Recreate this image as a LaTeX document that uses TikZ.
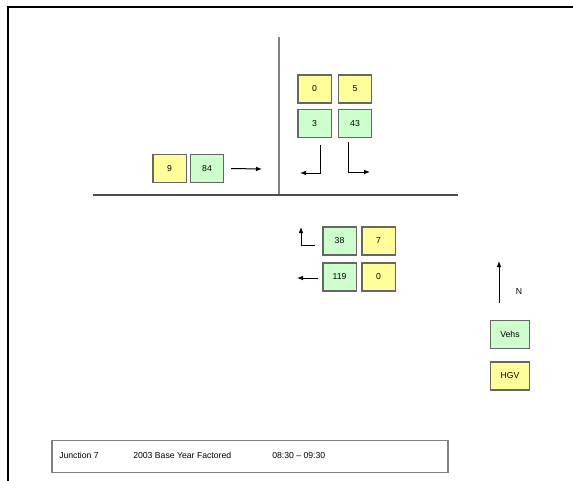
\documentclass[tikz,border=0pt]{standalone}
\usepackage{fontspec}
\setmainfont{Liberation Sans}
\usetikzlibrary{arrows.meta}
\definecolor{vehgreen}{RGB}{204,255,204}
\definecolor{hgvyellow}{RGB}{255,255,153}
\tikzset{
  flow box/.style={draw=black!60,line width=1pt,minimum width=25pt,minimum height=21pt,inner sep=0pt,font=\fontsize{6.5}{7}\selectfont},
  veh box/.style={flow box,fill=vehgreen},
  hgv box/.style={flow box,fill=hgvyellow},
  move arrow/.style={draw=black,line width=0.75pt,-{Latex[length=4.5pt,width=3.5pt]}},
  road/.style={draw=black!70,line width=1.5pt},
  title text/.style={anchor=west,inner sep=0pt,font=\fontsize{6.5}{7}\selectfont}
}

\begin{document}
\begin{tikzpicture}[x=0.75pt,y=-0.75pt]
        \useasboundingbox (0,0) rectangle (573,480);
        \draw[line width=1.5pt] (8,490) -- (8,7) -- (583,7);

        \coordinate (west end) at (93,195);
        \coordinate (east end) at (458,195);
        \coordinate (minor top) at (279,37);
        \coordinate (minor foot) at (279,195);
        \draw[draw=black!50,line width=1pt] (minor top) -- (minor foot);
        \draw[road] (west end) -- (east end);

        \begin{scope}
          \node[hgv box] (west hgv) at (169.5,168.5) {9};
          \node[veh box] (west veh) at (207,168.5) {84};
          \coordinate (west ahead) at (262,169);
          \draw[move arrow] ([xshift=5pt]west veh.east) -- (west ahead);
        \end{scope}

        \begin{scope}
          \node[hgv box] (south hgv left) at (314.5,89) {0};
          \node[hgv box] (south hgv right) at (355,89) {5};
          \node[veh box] (south veh left) at (314.5,123.5) {3};
          \node[veh box] (south veh right) at (355,123.5) {43};
          \coordinate (south left start) at (320,145);
          \coordinate (south left end) at (300,173);
          \coordinate (south right start) at (348,142);
          \coordinate (south right end) at (370,172);
          \draw[move arrow] (south left start) |- (south left end);
          \draw[move arrow] (south right start) |- (south right end);
        \end{scope}

        \begin{scope}
          \node[veh box] (east veh top) at (339.5,241) {38};
          \node[hgv box] (east hgv top) at (378.5,241) {7};
          \node[veh box] (east veh low) at (339.5,277) {119};
          \node[hgv box] (east hgv low) at (378.5,277) {0};
          \coordinate (east right start) at (315,245);
          \coordinate (east right end) at (301,227);
          \coordinate (east ahead start) at (318,278);
          \coordinate (east ahead end) at (297,278);
          \draw[move arrow] (east right start) -| (east right end);
          \draw[move arrow] (east ahead start) -- (east ahead end);
        \end{scope}

        \coordinate (north foot) at (499,303);
        \coordinate (north tip) at (499,261);
        \draw[move arrow] (north foot) -- (north tip);
        \node[title text,anchor=center] (north label) at (519,292) {N};
        \node[veh box,minimum width=29pt] (key veh) at (510,334.5) {Vehs};
        \node[hgv box,minimum width=29pt] (key hgv) at (510,376) {HGV};

        \node[draw=black!50,line width=1pt,minimum width=297pt,minimum height=24pt] (title box) at (250,456.5) {};
        \node[title text] (title junction) at (59,455) {Junction 7};
        \node[title text] (title year) at (133,455) {2003 Base Year Factored};
        \node[title text] (title time) at (272,455) {08:30 -- 09:30};
      \end{tikzpicture}
\end{document}
